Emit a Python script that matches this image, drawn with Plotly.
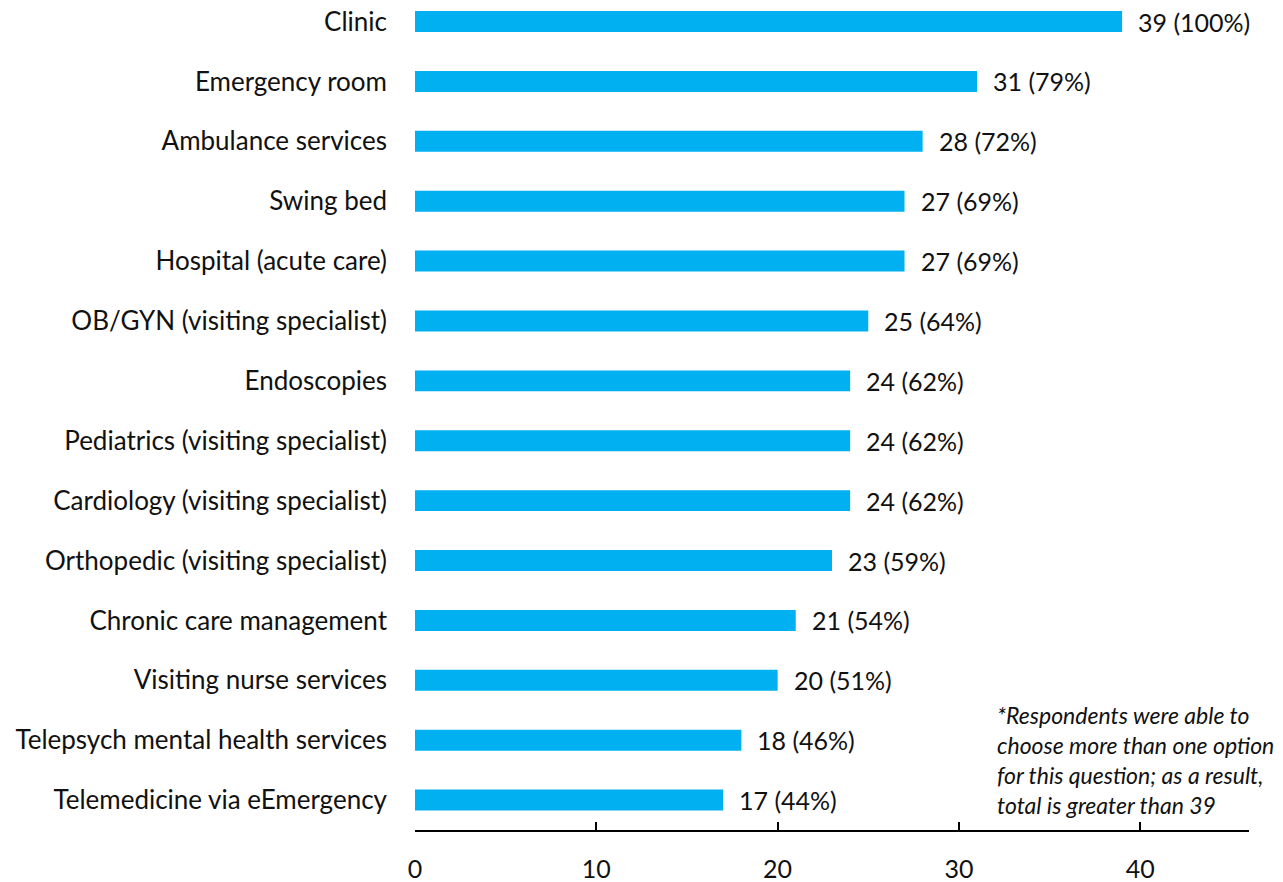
import plotly.graph_objects as go

# Services offered, with respondent counts and share of respondents
services = [
    "Clinic",
    "Emergency room",
    "Ambulance services",
    "Swing bed",
    "Hospital (acute care)",
    "OB/GYN (visiting specialist)",
    "Endoscopies",
    "Pediatrics (visiting specialist)",
    "Cardiology (visiting specialist)",
    "Orthopedic (visiting specialist)",
    "Chronic care management",
    "Visiting nurse services",
    "Telepsych mental health services",
    "Telemedicine via eEmergency",
]
counts = [39, 31, 28, 27, 27, 25, 24, 24, 24, 23, 21, 20, 18, 17]
percents = [100, 79, 72, 69, 69, 64, 62, 62, 62, 59, 54, 51, 46, 44]

x_ticks = [0, 10, 20, 30, 40]
footnote = ("*Respondents were able to<br>choose more than one option<br>"
            "for this question; as a result,<br>total is greater than 39")

FONT = "Lato"
BAR_COLOR = "#00B0F0"
TEXT_COLOR = "#111111"

fig = go.Figure()
fig.add_trace(go.Bar(
    x=counts,
    y=services,
    orientation="h",
    width=0.35,
    marker=dict(color=BAR_COLOR, line=dict(width=0)),
    hoverinfo="skip",
))

# value labels to the right of each bar
for name, c, p in zip(services, counts, percents):
    fig.add_annotation(
        x=c, y=name, xref="x", yref="y",
        text=f"{c} ({p}%)",
        showarrow=False, xanchor="left", yanchor="middle",
        xshift=14,
        font=dict(family=FONT, size=25, color=TEXT_COLOR),
    )

fig.add_annotation(
    x=32.0, y=12.33, xref="x", yref="y",
    text=footnote, showarrow=False,
    xanchor="left", yanchor="middle", align="left",
    font=dict(family=FONT, size=23, color=TEXT_COLOR, style="italic"),
)

fig.update_layout(
    width=1283, height=882,
    margin=dict(l=415, r=34, t=0, b=52),
    paper_bgcolor="white", plot_bgcolor="white",
    showlegend=False,
    font=dict(family=FONT, size=26, color=TEXT_COLOR),
    xaxis=dict(
        range=[0, 46],
        tickvals=x_ticks,
        showgrid=False, zeroline=False,
        showline=True, linecolor="#000000", linewidth=2,
        ticks="inside", ticklen=8, tickwidth=2, tickcolor="#000000",
        ticklabelstandoff=16,
        tickfont=dict(family=FONT, size=25, color=TEXT_COLOR),
    ),
    yaxis=dict(
        categoryorder="array", categoryarray=services,
        range=[13.5, -0.36],
        showgrid=False, zeroline=False, showline=False,
        ticks="", ticklabelstandoff=27,
        tickfont=dict(family=FONT, size=26, color=TEXT_COLOR),
    ),
)

fig.write_html("out.html")
